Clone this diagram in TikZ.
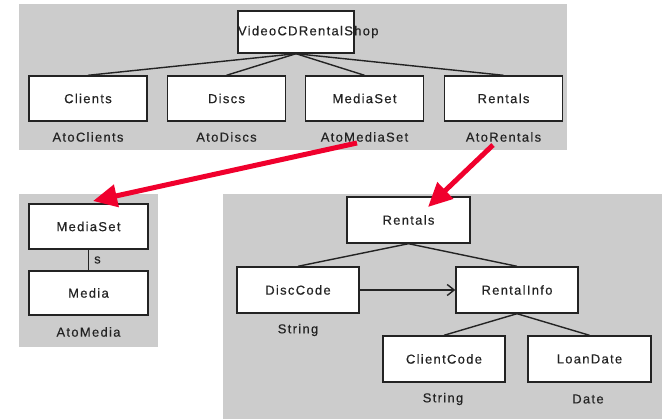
\documentclass[tikz,border=0pt]{standalone}
\usepackage{fontspec}
\setmainfont{Liberation Sans}[LetterSpace=10, FakeBold=0.35]
\usetikzlibrary{arrows.meta}
\definecolor{panel}{RGB}{204,204,204}
\definecolor{ink}{RGB}{35,35,35}
\definecolor{pointer}{RGB}{240,0,45}
\tikzset{
  panelbg/.style={fill=panel, draw=none},
  entity/.style={draw=ink, fill=white, line width=1.4pt, inner sep=0pt,
    minimum width=118pt, minimum height=45pt, font=\fontsize{13}{14}\selectfont, text=ink},
  caption/.style={inner sep=0pt, font=\fontsize{13}{14}\selectfont, text=ink},
  link/.style={draw=ink, line width=1.4pt},
  pointerarrow/.style={draw=pointer, line width=5pt,
    -{Triangle[length=24pt,width=22pt]}},
}
\begin{document}
\begin{tikzpicture}[x=1pt, y=-1pt]
\useasboundingbox (0,0) rectangle (670,419);

% grey panels
\fill[panelbg] (19,4) rectangle (567,150);
\fill[panelbg] (19,194) rectangle (158,347);
\fill[panelbg] (223,194) rectangle (662,419);

% top hierarchy
\node[entity, minimum width=116pt, minimum height=42pt] (shop) at (296,32) {};
\node[caption, anchor=west] (shoptxt) at ([xshift=0.5pt,yshift=0pt]shop.west) {VideoCDRentalShop};
\node[entity] (clients) at (88,98.5) {Clients};
\node[entity] (discs) at (226.5,98.5) {Discs};
\node[entity] (mediaset) at (364.5,98.5) {MediaSet};
\node[entity] (rentals) at (503.5,98.5) {Rentals};
\node[caption] (atoclients) at (88,137) {AtoClients};
\node[caption] (atodiscs) at (226.5,137) {AtoDiscs};
\node[caption] (atomediaset) at (364.5,137) {AtoMediaSet};
\node[caption] (atorentals) at (503.5,137) {AtoRentals};
\foreach \c in {clients,discs,mediaset,rentals}
  \draw[link] (shop.south) -- (\c.north);

% MediaSet detail
\node[entity, minimum width=119pt] (ms) at (88.5,226.5) {MediaSet};
\node[entity, minimum width=119pt, minimum height=44pt] (media) at (88.5,293) {Media};
\draw[link] (ms.south) -- node[caption, right=5pt] (slbl) {s} (media.north);
\node[caption] (atomedia) at (88.5,332) {AtoMedia};

% Rentals detail
\node[entity, minimum width=123pt, minimum height=46pt] (rt) at (408.5,220) {Rentals};
\node[entity, minimum width=122pt, minimum height=46pt] (disccode) at (298,290) {DiscCode};
\node[entity, minimum width=122pt, minimum height=46pt] (rinfo) at (517,290) {RentalInfo};
\node[entity, minimum width=122pt, minimum height=46pt] (ccode) at (444,359) {ClientCode};
\node[entity, minimum width=123pt, minimum height=46pt] (loan) at (589.5,359) {LoanDate};
\node[caption] (str1) at (298,330) {String};
\node[caption] (str2) at (443,399) {String};
\node[caption] (date) at (588,399) {Date};
\draw[link] (rt.south) -- (disccode.north);
\draw[link] (rt.south) -- (rinfo.north);
\draw[link] (rinfo.south) -- (ccode.north);
\draw[link] (rinfo.south) -- (loan.north);
\draw[link, -{Straight Barb[length=7pt,width=11pt,line width=1.4pt]}] (disccode.east) -- (rinfo.west);

% red pointers from the top level to the detail views
\coordinate (p1s) at (357,143);
\coordinate (p1e) at (93,201);
\coordinate (p2s) at (493,145);
\coordinate (p2e) at (428,207);
\draw[pointerarrow] (p1s) -- (p1e);
\draw[pointerarrow] (p2s) -- (p2e);
\end{tikzpicture}
\end{document}
